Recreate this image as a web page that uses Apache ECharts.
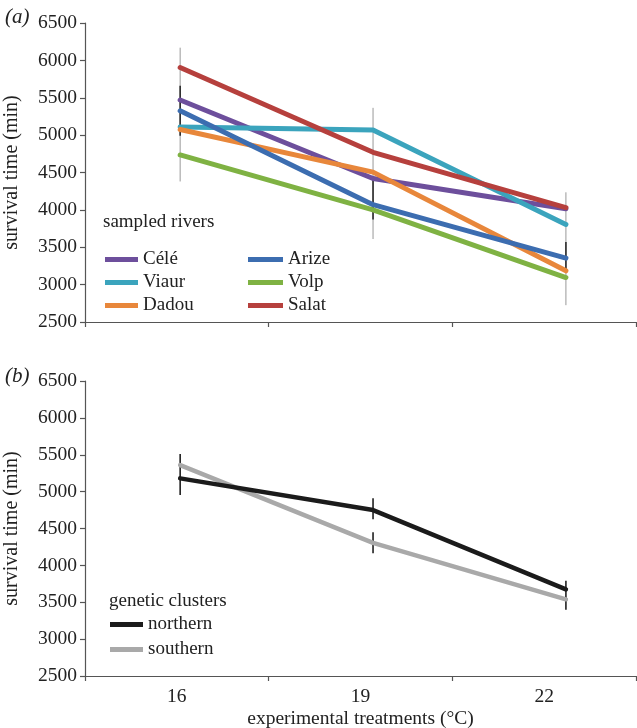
<!DOCTYPE html>
<html><head><meta charset="utf-8">
<script src="https://cdn.jsdelivr.net/npm/echarts@6/dist/echarts.min.js"></script>
<style>html,body{margin:0;padding:0;background:#fff}#c{width:637px;height:728px}</style>
</head><body><div id="c"></div>
<script>
// ---- data ----
const categories = ['16', '19', '22'];
const temps = [16, 19, 22];
const yTicks = [2500, 3000, 3500, 4000, 4500, 5000, 5500, 6000, 6500];

const riversNames = ['Célé', 'Viaur', 'Dadou', 'Arize', 'Volp', 'Salat'];
const cele  = [5470, 4420, 4015];
const viaur = [5110, 5070, 3805];
const dadou = [5075, 4505, 3185];
const arize = [5325, 4070, 3355];
const volp  = [4735, 4000, 3095];
const salat = [5905, 4770, 4030];
const riversColors = ['#6d4f9c', '#3ba4bd', '#e8873b', '#3c6db0', '#7fb243', '#b6403d'];

// error bars panel (a): [temp, low, high]
const errAGrey  = [[16, 4380, 6170], [19, 3610, 5365], [22, 2725, 4235]];
const errABlack = [[16, 4990, 5660], [19, 3870, 4420], [22, 3195, 3570]];

const clusterNames = ['northern', 'southern'];
const northern = [5180, 4750, 3675];
const southern = [5360, 4305, 3540];
const clusterColors = ['#1b1b1b', '#a9a9a9'];
// error bars panel (b)
const errB = [[16, 4955, 5510], [19, 4625, 4910], [19, 4165, 4450], [22, 3400, 3790]];

// ---- chart ----
const FONT = 'Liberation Serif';
const chart = echarts.init(document.getElementById('c'));

function xyPairs(vals) { return vals.map((v, i) => [temps[i], v]); }

function errSeries(data, xIdx, yIdx, color, width, z) {
  return {
    type: 'custom', xAxisIndex: xIdx, yAxisIndex: yIdx, z: z, silent: true,
    data: data,
    encode: { x: 0, y: [1, 2] },
    renderItem: function (params, api) {
      const p1 = api.coord([api.value(0), api.value(1)]);
      const p2 = api.coord([api.value(0), api.value(2)]);
      return { type: 'line', shape: { x1: p1[0], y1: p1[1], x2: p2[0], y2: p2[1] },
               style: { stroke: color, lineWidth: width } };
    }
  };
}

const axisLineStyle = { color: '#555', width: 1.2 };
function yAxisDef(gi) {
  return {
    type: 'value', gridIndex: gi, min: yTicks[0], max: yTicks[yTicks.length - 1], interval: 500,
    name: 'survival time (min)', nameLocation: 'middle', nameGap: 63,
    nameTextStyle: { fontFamily: FONT, fontSize: 20, color: '#222' },
    axisLine: { show: true, lineStyle: axisLineStyle },
    axisTick: { show: true, length: 5, lineStyle: axisLineStyle },
    axisLabel: { fontFamily: FONT, fontSize: 19.5, color: '#222', margin: 8,
                 formatter: v => String(v) },
    splitLine: { show: false }
  };
}
function catAxisDef(gi, showLabels) {
  return {
    type: 'category', gridIndex: gi, data: categories, boundaryGap: true,
    axisLine: { show: true, lineStyle: axisLineStyle },
    axisTick: { show: true, length: 5, lineStyle: axisLineStyle },
    axisLabel: { show: showLabels, fontFamily: FONT, fontSize: 19.5, color: '#222', margin: 11 },
    name: showLabels ? 'experimental treatments (°C)' : '',
    nameLocation: 'middle', nameGap: 33,
    nameTextStyle: { fontFamily: FONT, fontSize: 19.5, color: '#222' }
  };
}
function valXAxisDef(gi) {
  return { type: 'value', gridIndex: gi, min: 14.52, max: 23.09, show: false, position: 'top' };
}

const series = [];
series.push(errSeries(errAGrey, 1, 0, '#999', 1, 1));
series.push(errSeries(errABlack, 1, 0, '#222', 1.5, 1));
const riverData = [cele, viaur, dadou, arize, volp, salat];
riverData.forEach((d, i) => {
  series.push({
    name: riversNames[i], type: 'line', xAxisIndex: 1, yAxisIndex: 0,
    data: xyPairs(d), symbol: 'none', z: 3,
    lineStyle: { color: riversColors[i], width: 5, cap: 'round', join: 'round' },
    itemStyle: { color: riversColors[i] }
  });
});
series.push(errSeries(errB, 3, 1, '#111', 1.5, 1));
[northern, southern].forEach((d, i) => {
  series.push({
    name: clusterNames[i], type: 'line', xAxisIndex: 3, yAxisIndex: 1,
    data: xyPairs(d), symbol: 'none', z: i === 0 ? 3 : 2,
    lineStyle: { color: clusterColors[i], width: 4.5, cap: 'round', join: 'round' },
    itemStyle: { color: clusterColors[i] }
  });
});

const legendText = { fontFamily: FONT, fontSize: 19, color: '#222' };
const titleStyle = { fontFamily: FONT, fontStyle: 'italic', fontWeight: 'normal', fontSize: 21, color: '#222' };
const plainTitle = { fontFamily: FONT, fontWeight: 'normal', fontSize: 19, color: '#222' };
const option = {
  animation: false,
  backgroundColor: '#fff',
  title: [
    { text: '(a)', left: 0, top: 2, textStyle: titleStyle },
    { text: '(b)', left: 0, top: 361, textStyle: titleStyle },
    { text: 'sampled rivers', left: 98, top: 208, textStyle: plainTitle },
    { text: 'genetic clusters', left: 104, top: 587, textStyle: plainTitle }
  ],
  grid: [
    { left: 85, top: 23, width: 551, height: 299, containLabel: false, outerBoundsMode: 'none' },
    { left: 85, top: 381, width: 551, height: 295, containLabel: false, outerBoundsMode: 'none' }
  ],
  xAxis: [catAxisDef(0, false), valXAxisDef(0), catAxisDef(1, true), valXAxisDef(1)],
  yAxis: [yAxisDef(0), yAxisDef(1)],
  legend: [
    { data: ['Célé', 'Viaur', 'Dadou'], orient: 'vertical', left: 100, top: 245, icon: 'rect',
      itemWidth: 33, itemHeight: 5, itemGap: 4, textStyle: legendText, selectedMode: false },
    { data: ['Arize', 'Volp', 'Salat'], orient: 'vertical', left: 243, top: 245, icon: 'rect',
      itemWidth: 35, itemHeight: 5, itemGap: 4, textStyle: legendText, selectedMode: false },
    { data: clusterNames, orient: 'vertical', left: 105, top: 610, icon: 'rect',
      itemWidth: 33, itemHeight: 5, itemGap: 6, textStyle: legendText, selectedMode: false }
  ],
  series: series
};
chart.setOption(option);
</script>
</body></html>
